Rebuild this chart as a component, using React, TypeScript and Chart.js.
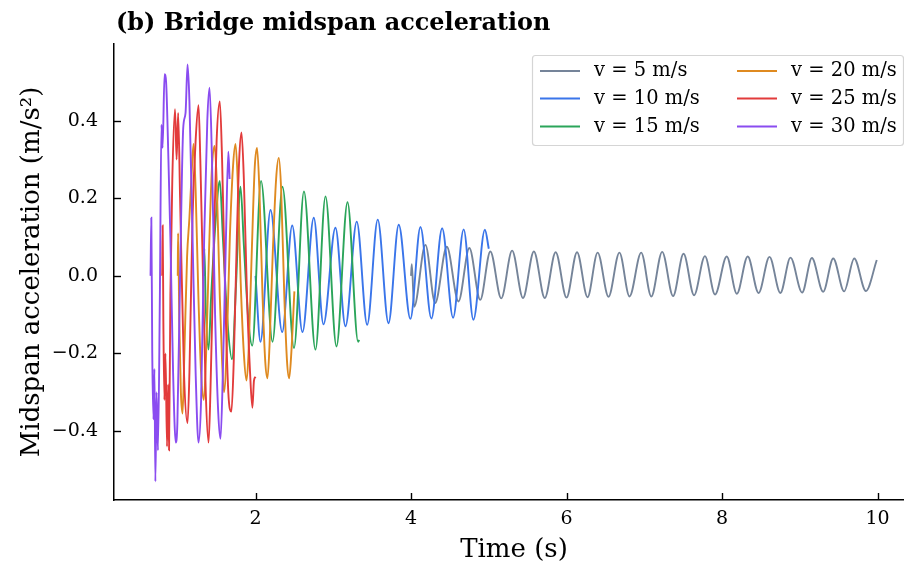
import React, { useEffect, useRef } from 'react';
import { Chart, registerables } from 'chart.js';

Chart.register(...registerables);

const FONT = "'DejaVu Serif', 'Liberation Serif', serif";

const chartTitle = '(b) Bridge midspan acceleration';
const xAxisTitle = 'Time (s)';
const yAxisTitle = 'Midspan acceleration (m/s²)';

const xTickValues = [2, 4, 6, 8, 10];
const yTickValues = [-0.4, -0.2, 0, 0.2, 0.4];

const seriesLabels = ['v = 5 m/s', 'v = 10 m/s', 'v = 15 m/s', 'v = 20 m/s', 'v = 25 m/s', 'v = 30 m/s'];
const seriesColors = ['#758499', '#3a75ea', '#2ba55a', '#df8a20', '#e23b3b', '#8a4cf0'];

// v = 5 m/s
const v5T = [4.00, 4.01, 4.04, 4.185, 4.31, 4.46, 4.61, 4.75, 4.89, 5.02, 5.16, 5.30, 5.44, 5.58, 5.72, 5.86, 6.00, 6.135, 6.27, 6.40, 6.54, 6.68, 6.81, 6.96, 7.09, 7.23, 7.37, 7.505, 7.64, 7.78, 7.91, 8.06, 8.19, 8.33, 8.47, 8.61, 8.75, 8.88, 9.03, 9.155, 9.30, 9.43, 9.57, 9.70, 9.85, 9.99];
const v5A = [0.0, 0.03, -0.08, 0.08, -0.07, 0.075, -0.066, 0.072, -0.062, 0.063, -0.058, 0.065, -0.057, 0.063, -0.057, 0.061, -0.056, 0.061, -0.055, 0.060, -0.054, 0.060, -0.053, 0.060, -0.053, 0.062, -0.052, 0.057, -0.050, 0.051, -0.048, 0.050, -0.046, 0.050, -0.044, 0.049, -0.044, 0.047, -0.043, 0.046, -0.041, 0.045, -0.040, 0.045, -0.039, 0.041];

// v = 10 m/s
const v10T = [2.000, 2.064, 2.193, 2.343, 2.472, 2.604, 2.749, 2.874, 3.028, 3.157, 3.302, 3.436, 3.572, 3.710, 3.842, 3.992, 4.121, 4.262, 4.400, 4.541, 4.677, 4.802, 4.950, 5.000];
const v10A = [0.0, -0.17, 0.17, -0.145, 0.13, -0.145, 0.15, -0.125, 0.124, -0.13, 0.14, -0.126, 0.145, -0.122, 0.132, -0.111, 0.126, -0.11, 0.123, -0.108, 0.12, -0.113, 0.119, 0.07];

// v = 15 m/s
const v15T = [1.333, 1.342, 1.360, 1.396, 1.430, 1.490, 1.541, 1.580, 1.640, 1.698, 1.750, 1.807, 1.850, 1.910, 1.958, 2.071, 2.219, 2.347, 2.495, 2.623, 2.771, 2.900, 3.041, 3.183, 3.320, 3.333];
const v15A = [0.0, 0.07, -0.08, -0.19, -0.05, 0.15, 0.245, 0.10, -0.12, -0.215, -0.02, 0.23, 0.08, -0.12, -0.18, 0.245, -0.17, 0.23, -0.186, 0.218, -0.19, 0.205, -0.182, 0.19, -0.17, -0.165];

// v = 20 m/s
const v20T = [1.000, 1.004, 1.020, 1.040, 1.062, 1.085, 1.120, 1.150, 1.175, 1.203, 1.230, 1.265, 1.300, 1.335, 1.365, 1.400, 1.440, 1.473, 1.500, 1.540, 1.570, 1.595, 1.630, 1.670, 1.710, 1.743, 1.770, 1.810, 1.850, 1.884, 1.910, 1.950, 1.990, 2.020, 2.050, 2.090, 2.125, 2.154, 2.180, 2.220, 2.265, 2.300, 2.330, 2.370, 2.405, 2.433, 2.460, 2.500];
const v20A = [0.0, 0.11, -0.12, -0.30, -0.355, -0.20, 0.05, 0.15, 0.25, 0.34, 0.22, -0.05, -0.25, -0.32, -0.20, 0.05, 0.28, 0.335, 0.25, -0.05, -0.22, -0.30, -0.18, 0.10, 0.28, 0.34, 0.25, -0.02, -0.20, -0.27, -0.20, 0.05, 0.28, 0.33, 0.22, -0.05, -0.22, -0.264, -0.18, 0.05, 0.25, 0.304, 0.22, -0.05, -0.22, -0.264, -0.20, -0.04];

// v = 25 m/s
const v25T = [0.800, 0.806, 0.815, 0.828, 0.842, 0.862, 0.876, 0.888, 0.905, 0.930, 0.965, 0.985, 1.005, 1.030, 1.080, 1.126, 1.150, 1.190, 1.230, 1.267, 1.290, 1.330, 1.360, 1.396, 1.420, 1.460, 1.500, 1.541, 1.570, 1.610, 1.650, 1.690, 1.720, 1.760, 1.790, 1.820, 1.850, 1.890, 1.930, 1.960, 1.980, 2.000];
const v25A = [0.0, 0.13, -0.12, -0.32, -0.20, -0.44, -0.28, -0.45, -0.05, 0.25, 0.43, 0.30, 0.42, 0.20, -0.25, -0.38, -0.25, 0.15, 0.35, 0.44, 0.30, -0.05, -0.30, -0.43, -0.30, 0.05, 0.35, 0.45, 0.30, -0.05, -0.30, -0.35, -0.22, 0.10, 0.30, 0.37, 0.25, -0.05, -0.25, -0.34, -0.27, -0.26];

// v = 30 m/s
const v30T = [0.650, 0.660, 0.672, 0.688, 0.700, 0.712, 0.728, 0.745, 0.770, 0.790, 0.805, 0.830, 0.850, 0.880, 0.905, 0.940, 0.975, 0.995, 1.030, 1.070, 1.100, 1.126, 1.150, 1.190, 1.230, 1.267, 1.300, 1.340, 1.380, 1.409, 1.440, 1.480, 1.520, 1.550, 1.580, 1.620, 1.650, 1.667];
const v30A = [0.0, 0.15, -0.20, -0.37, -0.24, -0.53, -0.30, -0.45, -0.05, 0.39, 0.33, 0.52, 0.50, 0.30, 0.10, -0.25, -0.43, -0.38, 0.0, 0.38, 0.42, 0.545, 0.45, 0.10, -0.25, -0.43, -0.32, 0.10, 0.40, 0.485, 0.30, -0.10, -0.35, -0.42, -0.25, 0.10, 0.32, 0.25];

const seriesT = [v5T, v10T, v15T, v20T, v25T, v30T];
const seriesA = [v5A, v10A, v15A, v20A, v25A, v30A];

const fmtY = (v: number) => {
  const s = Math.abs(v).toFixed(1);
  return v < -1e-9 ? '\u2212' + s : s;
};

const decorPlugin = {
  id: 'decor',
  afterDraw(chart: any) {
    const { ctx, chartArea: a, scales } = chart;
    const x = scales.x;
    const y = scales.y;
    ctx.save();
    // inward ticks
    ctx.strokeStyle = '#000';
    ctx.lineWidth = 1.4;
    xTickValues.forEach((v) => {
      const px = Math.round(x.getPixelForValue(v)) + 0.5;
      ctx.beginPath();
      ctx.moveTo(px, a.bottom);
      ctx.lineTo(px, a.bottom - 7);
      ctx.stroke();
    });
    yTickValues.forEach((v) => {
      const py = Math.round(y.getPixelForValue(v)) + 0.5;
      ctx.beginPath();
      ctx.moveTo(a.left, py);
      ctx.lineTo(a.left + 7, py);
      ctx.stroke();
    });
    // titles
    ctx.fillStyle = '#000';
    ctx.font = `bold 23.9px ${FONT}`;
    ctx.textAlign = 'left';
    ctx.textBaseline = 'alphabetic';
    ctx.fillText(chartTitle, 116, 30);
    ctx.font = `26px ${FONT}`;
    ctx.textAlign = 'center';
    ctx.textBaseline = 'middle';
    ctx.fillText(xAxisTitle, 514, 550);
    ctx.save();
    ctx.translate(32, (a.top + a.bottom) / 2);
    ctx.rotate(-Math.PI / 2);
    ctx.fillText(yAxisTitle, 0, 0);
    ctx.restore();
    // legend
    const bx = 532.5, by = 55.5, bw = 371, bh = 90, r = 3;
    ctx.beginPath();
    ctx.moveTo(bx + r, by);
    ctx.lineTo(bx + bw - r, by);
    ctx.quadraticCurveTo(bx + bw, by, bx + bw, by + r);
    ctx.lineTo(bx + bw, by + bh - r);
    ctx.quadraticCurveTo(bx + bw, by + bh, bx + bw - r, by + bh);
    ctx.lineTo(bx + r, by + bh);
    ctx.quadraticCurveTo(bx, by + bh, bx, by + bh - r);
    ctx.lineTo(bx, by + r);
    ctx.quadraticCurveTo(bx, by, bx + r, by);
    ctx.closePath();
    ctx.fillStyle = 'rgba(255,255,255,0.8)';
    ctx.fill();
    ctx.strokeStyle = '#d5d5d5';
    ctx.lineWidth = 1.2;
    ctx.stroke();
    const colX = [540, 737];
    const rowY = [71, 98.5, 126.5];
    ctx.font = `19.5px ${FONT}`;
    ctx.textAlign = 'left';
    ctx.textBaseline = 'middle';
    seriesLabels.forEach((lab, i) => {
      const c = Math.floor(i / 3);
      const rr = i % 3;
      ctx.strokeStyle = seriesColors[i];
      ctx.lineWidth = 1.9;
      ctx.beginPath();
      ctx.moveTo(colX[c], rowY[rr]);
      ctx.lineTo(colX[c] + 40, rowY[rr]);
      ctx.stroke();
      ctx.fillStyle = '#000';
      ctx.fillText(lab, colX[c] + 54, rowY[rr]);
    });
    ctx.restore();
  },
};

export default function App() {
  const ref = useRef<HTMLCanvasElement | null>(null);
  useEffect(() => {
    if (!ref.current) return;
    const datasets = seriesLabels.map((label, i) => ({
      label,
      data: seriesT[i].map((t, j) => ({ x: t, y: seriesA[i][j] })),
      borderColor: seriesColors[i],
      backgroundColor: seriesColors[i],
      borderWidth: 1.9,
      pointRadius: 0,
      fill: false,
      cubicInterpolationMode: 'monotone' as const,
      order: seriesLabels.length - i,
    }));
    const chart = new Chart(ref.current, {
      type: 'line',
      data: { datasets },
      options: {
        animation: false,
        responsive: false,
        maintainAspectRatio: false,
        layout: { padding: { top: 44, right: 0, left: 0, bottom: 0 } },
        plugins: {
          legend: { display: false },
          tooltip: { enabled: false },
          title: { display: false },
        },
        scales: {
          x: {
            type: 'linear',
            min: 0.18,
            max: 10.34,
            grid: { display: false, drawTicks: false },
            border: { display: true, color: '#000', width: 1.5 },
            ticks: {
              font: { family: FONT, size: 19 },
              color: '#000',
              padding: 8,
              maxRotation: 0,
              autoSkip: false,
              callback: (v: any) => String(v),
            },
            afterBuildTicks: (s: any) => {
              s.ticks = xTickValues.map((v) => ({ value: v }));
            },
            afterFit: (s: any) => {
              s.height = 67;
            },
          },
          y: {
            type: 'linear',
            min: -0.578,
            max: 0.598,
            grid: { display: false, drawTicks: false },
            border: { display: true, color: '#000', width: 1.5 },
            ticks: {
              font: { family: FONT, size: 19 },
              color: '#000',
              padding: 16,
              autoSkip: false,
              callback: (v: any) => fmtY(Number(v)),
            },
            afterBuildTicks: (s: any) => {
              s.ticks = yTickValues.map((v) => ({ value: v }));
            },
            afterFit: (s: any) => {
              s.width = 114;
            },
          },
        },
      },
      plugins: [decorPlugin],
    });
    return () => chart.destroy();
  }, []);
  return (
    <div style={{ position: 'absolute', left: 0, top: 0, width: 904, height: 567, background: '#fff' }}>
      <canvas ref={ref} width={904} height={567} style={{ display: 'block' }} />
    </div>
  );
}
